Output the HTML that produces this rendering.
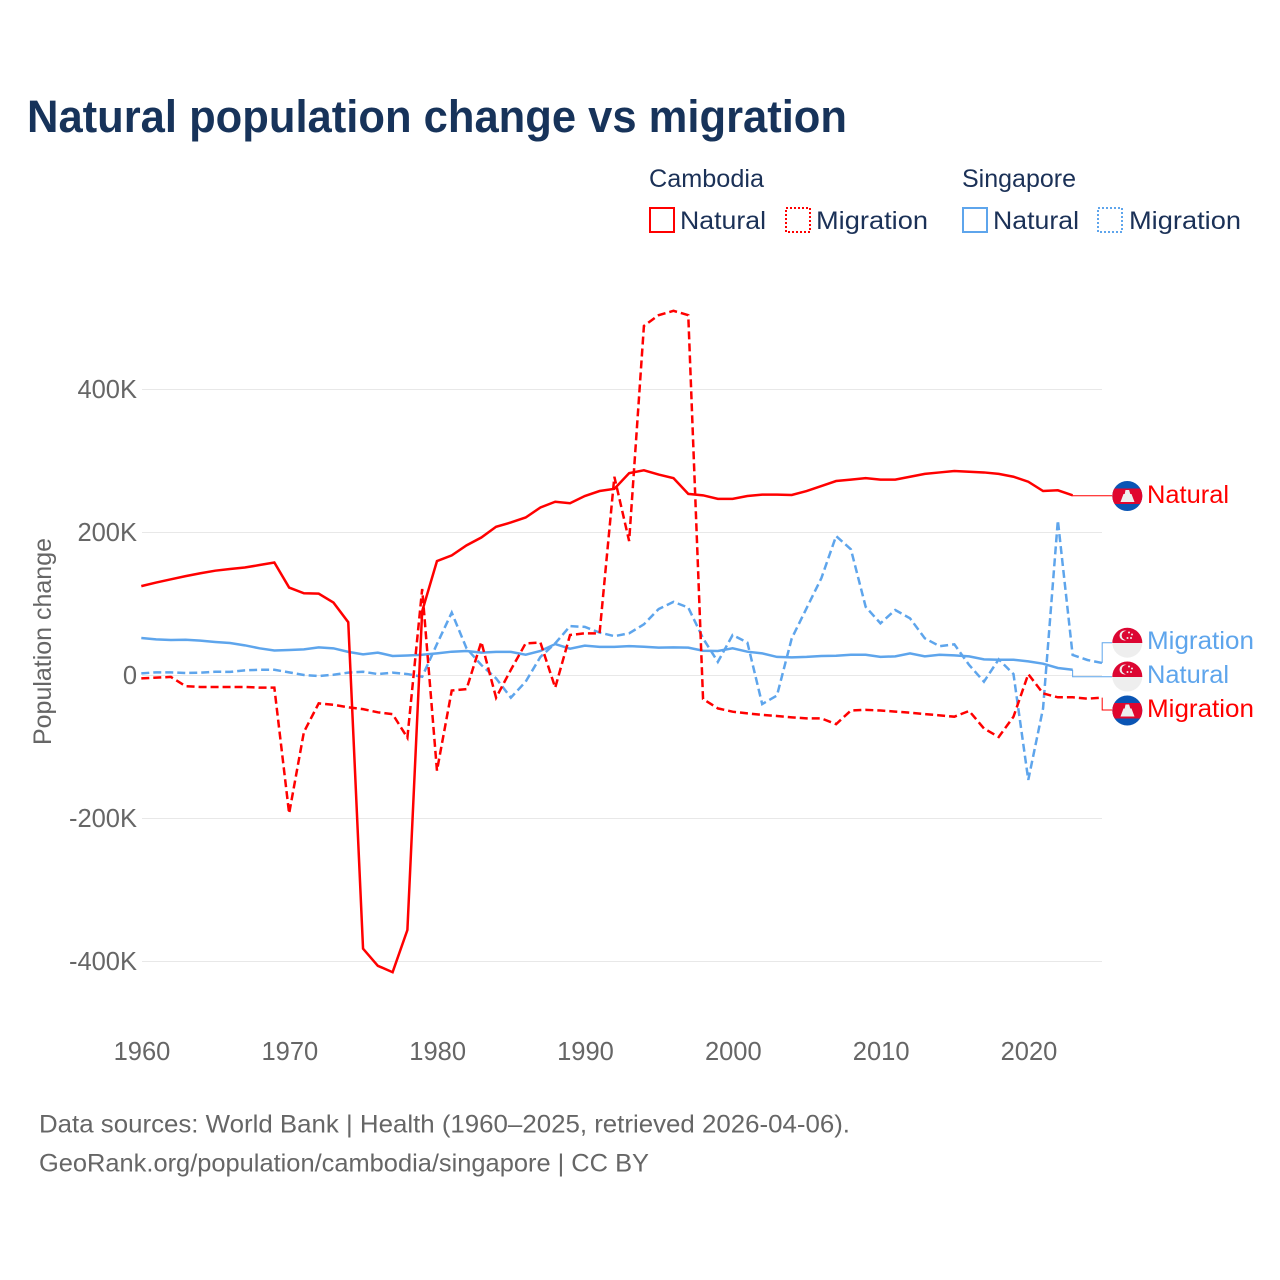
<!DOCTYPE html>
<html lang="en">
<head>
<meta charset="utf-8">
<title>Natural population change vs migration</title>
<style>
html,body{margin:0;padding:0;background:#fff;width:1280px;height:1280px;overflow:hidden}
svg{display:block}
text{font-family:"Liberation Sans",sans-serif}
</style>
</head>
<body>
<svg id="chart" xmlns="http://www.w3.org/2000/svg" width="1280" height="1280" viewBox="0 0 1280 1280">
  <text x="27" y="132" font-size="45.5" font-weight="700" fill="#17335a" textLength="820" lengthAdjust="spacingAndGlyphs">Natural population change vs migration</text>

  <g fill="#1b3157" font-size="25">
    <text x="649" y="187" textLength="115" lengthAdjust="spacingAndGlyphs">Cambodia</text>
    <text x="962" y="187" textLength="114" lengthAdjust="spacingAndGlyphs">Singapore</text>
    <rect x="650" y="208" width="24" height="24" fill="none" stroke="#ff0000" stroke-width="2"/>
    <text x="680" y="229" textLength="86" lengthAdjust="spacingAndGlyphs">Natural</text>
    <rect x="786" y="208" width="24" height="24" fill="none" stroke="#ff0000" stroke-width="2" stroke-dasharray="2 2"/>
    <text x="816" y="229" textLength="112" lengthAdjust="spacingAndGlyphs">Migration</text>
    <rect x="963" y="208" width="24" height="24" fill="none" stroke="#5ea5ec" stroke-width="2"/>
    <text x="993" y="229" textLength="86" lengthAdjust="spacingAndGlyphs">Natural</text>
    <rect x="1098" y="208" width="24" height="24" fill="none" stroke="#5ea5ec" stroke-width="2" stroke-dasharray="2 2"/>
    <text x="1129" y="229" textLength="112" lengthAdjust="spacingAndGlyphs">Migration</text>
  </g>

  <g id="grid"></g>
  <g id="yticks" fill="#666666" font-size="25.5" text-anchor="end"></g>
  <g id="xticks" fill="#666666" font-size="25.5" text-anchor="middle"></g>
  <text transform="translate(51,745) rotate(-90)" fill="#666666" font-size="25" textLength="207" lengthAdjust="spacingAndGlyphs">Population change</text>

  <g id="series"></g>
  <g id="connectors"></g>

  <defs>
    <clipPath id="clip-a"><circle cx="1127.3" cy="496" r="15"/></clipPath>
    <clipPath id="clip-b"><circle cx="1127.3" cy="642.7" r="15"/></clipPath>
    <clipPath id="clip-c"><circle cx="1127.3" cy="676.5" r="15"/></clipPath>
    <clipPath id="clip-d"><circle cx="1127.3" cy="710.5" r="15"/></clipPath>
  </defs>

  <g clip-path="url(#clip-a)">
    <rect x="1112" y="481" width="31" height="31" fill="#0a55b4"/>
    <rect x="1112" y="488.5" width="31" height="15.5" fill="#e0062e"/>
    <path d="M1125.5 490 h3.6 l1.2 4 h1.2 l3 8 h-14 l3 -8 h1.2 z" fill="#eeeeee"/>
  </g>
  <g clip-path="url(#clip-b)">
    <rect x="1112" y="627" width="31" height="16" fill="#dc0632"/>
    <rect x="1112" y="643" width="31" height="16" fill="#eeeeee"/>
    <circle cx="1124.5" cy="635.5" r="5" fill="#eeeeee"/>
    <circle cx="1126.3" cy="635.5" r="4.6" fill="#dc0632"/>
    <circle cx="1129" cy="632.5" r="1" fill="#eeeeee"/>
    <circle cx="1132" cy="634.5" r="1" fill="#eeeeee"/>
    <circle cx="1131" cy="638" r="1" fill="#eeeeee"/>
    <circle cx="1127.5" cy="638" r="1" fill="#eeeeee"/>
  </g>
  <g clip-path="url(#clip-c)">
    <rect x="1112" y="661" width="31" height="16" fill="#dc0632"/>
    <rect x="1112" y="677" width="31" height="16" fill="#eeeeee"/>
    <circle cx="1124.5" cy="669.5" r="5" fill="#eeeeee"/>
    <circle cx="1126.3" cy="669.5" r="4.6" fill="#dc0632"/>
    <circle cx="1129" cy="666.5" r="1" fill="#eeeeee"/>
    <circle cx="1132" cy="668.5" r="1" fill="#eeeeee"/>
    <circle cx="1131" cy="672" r="1" fill="#eeeeee"/>
    <circle cx="1127.5" cy="672" r="1" fill="#eeeeee"/>
  </g>
  <g clip-path="url(#clip-d)">
    <rect x="1112" y="695" width="31" height="31" fill="#0a55b4"/>
    <rect x="1112" y="703" width="31" height="15.5" fill="#e0062e"/>
    <path d="M1125.5 704.5 h3.6 l1.2 4 h1.2 l3 8 h-14 l3 -8 h1.2 z" fill="#eeeeee"/>
  </g>

  <g font-size="25">
    <text x="1147" y="503" fill="#ff0000" textLength="82" lengthAdjust="spacingAndGlyphs">Natural</text>
    <text x="1147" y="649" fill="#5ea5ec" textLength="107" lengthAdjust="spacingAndGlyphs">Migration</text>
    <text x="1147" y="683" fill="#5ea5ec" textLength="82" lengthAdjust="spacingAndGlyphs">Natural</text>
    <text x="1147" y="717" fill="#ff0000" textLength="107" lengthAdjust="spacingAndGlyphs">Migration</text>
  </g>

  <g fill="#666666" font-size="25">
    <text x="39" y="1132.5" textLength="811" lengthAdjust="spacingAndGlyphs">Data sources: World Bank | Health (1960–2025, retrieved 2026-04-06).</text>
    <text x="39" y="1171.5" textLength="610" lengthAdjust="spacingAndGlyphs">GeoRank.org/population/cambodia/singapore | CC BY</text>
  </g>
</svg>

<script>
const startYear = 1960;
const xTickYears = [1960, 1970, 1980, 1990, 2000, 2010, 2020];
const yTickValues = [400, 200, 0, -200, -400];
const yTickLabels = ["400K", "200K", "0", "-200K", "-400K"];

// Values in thousands of people, 1960 onward
const cambodiaNatural = [125,130,134.5,139,143,146.6,149,151,154.5,158,123,115,114.5,102,74.5,-382,-406,-415,-356,90,160,168,182,193,208,214,221,235,243,241,251,258,261,283,287,281,276,254,252,247,247,251,253,253,252.5,258,265,272,274,276,274,274,278,282,284,286,285,284,282,278,271,258,259,252];
const cambodiaMigration = [-4,-3,-2,-15,-16,-16,-16,-16,-17,-17,-193,-79,-39,-41,-44.5,-47,-51.5,-54,-87,121,-133,-21,-19,47,-31,8,45,46,-17,56.6,59,59,278,188,489,504,510,504,-33,-46,-50.6,-53,-55,-56.6,-58.5,-60,-60,-68,-49,-48,-49,-50.5,-52,-54,-55.7,-57.6,-49.6,-74,-86,-57.6,2,-25,-30.5,-30.5,-32.4,-31];
const singaporeNatural = [52.4,50.6,49.7,50,48.7,46.9,45.5,42.2,38,35,35.7,36.6,39.4,38,33,29.6,32,27.3,28,29,31,33.3,34.3,32,33,33,29,34.3,44,37.5,41.7,40,40,41,40.3,39,39.4,39,34.7,34.3,38,33.3,31,26,25.4,26,27.3,27.7,29,29,26,26.8,31,26.8,29,28.2,26.8,22.6,22,22,19.8,16.5,10.5,8];
const singaporeMigration = [3,4.4,4.4,3.5,4,5.3,5,7.2,8,8,4.4,0.7,-0.7,1,4,5.3,2,4,2,-1.7,44,88,38,14.7,-4,-31,-8.6,26,45,69,68,60,55,59,71.6,93,103,95,52,19,56.6,46,-40,-28,52,94,136,195,176.5,96,73,91.6,80,52,41,43.6,14.7,-8.6,22.6,2,-146,-46,217,28.7,21.7,17.5];

const NS = "http://www.w3.org/2000/svg";
const xOf = function (year) { return 141.3 + (year - startYear) * 14.783; };
const yOf = function (v) { return 675.5 - v * 0.715; };
const xLabelOf = function (year) { return 142 + (year - startYear) * 14.783; };

const gridLayer = document.getElementById("grid");
const yLayer = document.getElementById("yticks");
yTickValues.forEach(function (v, i) {
  const line = document.createElementNS(NS, "line");
  line.setAttribute("x1", 142);
  line.setAttribute("x2", 1102);
  line.setAttribute("y1", yOf(v));
  line.setAttribute("y2", yOf(v));
  line.setAttribute("stroke", "#e8e8e8");
  line.setAttribute("stroke-width", "1");
  
  
  gridLayer.appendChild(line);
  const t = document.createElementNS(NS, "text");
  t.setAttribute("x", 137);
  t.setAttribute("y", yOf(v) + 8.5);
  t.textContent = yTickLabels[i];
  
  
  yLayer.appendChild(t);
});

const xLayer = document.getElementById("xticks");
xTickYears.forEach(function (yr) {
  const t = document.createElementNS(NS, "text");
  t.setAttribute("x", xLabelOf(yr));
  t.setAttribute("y", 1060);
  t.textContent = String(yr);
  
  
  xLayer.appendChild(t);
});

function pathFor(values) {
  return values.map(function (v, i) {
    return (i ? "L" : "M") + xOf(startYear + i).toFixed(2) + " " + yOf(v).toFixed(2);
  }).join(" ");
}

const seriesLayer = document.getElementById("series");
const connectorLayer = document.getElementById("connectors");
const BLUE = "#5ea5ec";
const RED = "#ff0000";

function drawSeries(values, color, dashed, flagY) {
  const p = document.createElementNS(NS, "path");
  p.setAttribute("d", pathFor(values));
  p.setAttribute("fill", "none");
  p.setAttribute("stroke", color);
  p.setAttribute("stroke-width", "2.5");
  p.setAttribute("stroke-linejoin", "miter");
  if (dashed) { p.setAttribute("stroke-dasharray", "8 4"); }
  
  
  seriesLayer.appendChild(p);

  const endX = xOf(startYear + values.length - 1);
  const endY = yOf(values[values.length - 1]);
  const c = document.createElementNS(NS, "path");
  c.setAttribute("d", "M" + endX.toFixed(2) + " " + endY.toFixed(2) + " V" + flagY + " H1112");
  c.setAttribute("fill", "none");
  c.setAttribute("stroke", color);
  c.setAttribute("stroke-width", "1");
  
  
  connectorLayer.appendChild(c);
}

drawSeries(singaporeNatural, BLUE, false, 676.7);
drawSeries(singaporeMigration, BLUE, true, 642.7);
drawSeries(cambodiaNatural, RED, false, 495.7);
drawSeries(cambodiaMigration, RED, true, 710);
</script>
</body>
</html>
